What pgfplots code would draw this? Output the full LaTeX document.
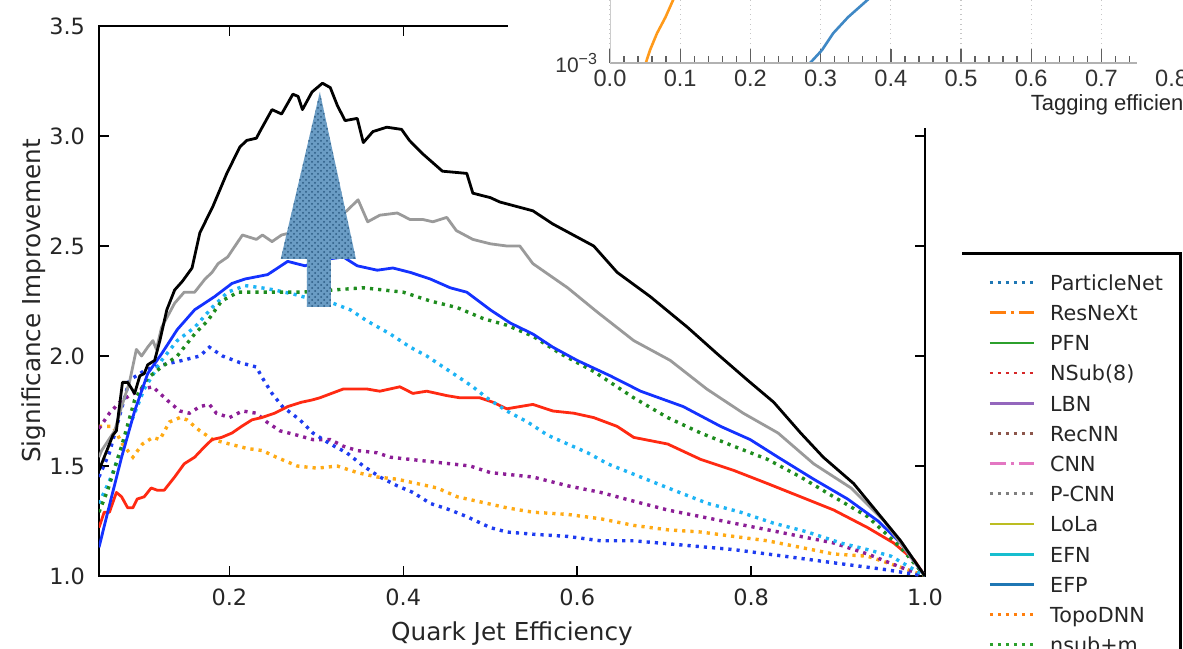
\documentclass[border=0pt]{standalone}
\usepackage{fontspec}
\setmainfont{DejaVu Sans}
\newfontfamily\insetfont{Liberation Sans}
\usepackage{pgfplots}
\pgfplotsset{compat=1.18}
\usetikzlibrary{patterns}
\pgfplotsset{/pgf/number format/assume math mode=true}

\definecolor{cGray}{HTML}{9A9A9A}
\definecolor{cBlue}{HTML}{1432FF}
\definecolor{cGreen}{HTML}{1E8C1E}
\definecolor{cSky}{HTML}{1EB4F5}
\definecolor{cBlueDot}{HTML}{1E3CF0}
\definecolor{cRed}{HTML}{FF2A12}
\definecolor{cPurple}{HTML}{8C1E96}
\definecolor{cOrange}{HTML}{FFAA14}
\definecolor{arrowfill}{HTML}{6A9CC4}
\definecolor{arrowdot}{HTML}{2A5A82}
\definecolor{inOrange}{HTML}{FF9A1A}
\definecolor{inBlue}{HTML}{3F88C5}
\definecolor{tabblue}{HTML}{1F77B4}
\definecolor{taborange}{HTML}{FF7F0E}
\definecolor{tabgreen}{HTML}{2CA02C}
\definecolor{tabred}{HTML}{D62728}
\definecolor{tabpurple}{HTML}{9467BD}
\definecolor{tabbrown}{HTML}{8C564B}
\definecolor{tabpink}{HTML}{E377C2}
\definecolor{tabgray}{HTML}{7F7F7F}
\definecolor{tabolive}{HTML}{BCBD22}
\definecolor{tabcyan}{HTML}{17BECF}

\tikzset{
  sol/.style={line width=1.4pt, line join=round},
  dotl/.style={line width=1.7pt, dash pattern=on 1.6pt off 2.5pt},
  lsol/.style={line width=1.3pt},
  ldot/.style={line width=1.4pt, dash pattern=on 1.4pt off 2.6pt},
  ldd/.style={line width=1.3pt, dash pattern=on 8pt off 2.5pt on 1.5pt off 2.5pt},
}

\begin{document}
\begin{tikzpicture}
\useasboundingbox (0,0) rectangle (591.5pt,324pt);
\clip (0,0) rectangle (591.5pt,324pt);

% ---------------- main axis ----------------
\begin{axis}[
  at={(49.5pt,36pt)}, anchor=south west, scale only axis,
  width=413pt, height=275pt,
  xmin=0.05, xmax=1.0, ymin=1.0, ymax=3.5,
  xtick={0.2,0.4,0.6,0.8,1.0}, ytick={1.0,1.5,2.0,2.5,3.0,3.5},
  tick align=inside, major tick length=5pt,
  every tick/.style={black, line width=0.8pt},
  axis line style={line width=1.1pt},
  /pgf/number format/fixed, /pgf/number format/fixed zerofill,
  /pgf/number format/precision=1,
  tick label style={font=\fontsize{11.2}{13}\selectfont, text=black!85},
  xticklabel style={yshift=-3pt},
  yticklabel style={xshift=-3.5pt},
  xlabel={Quark Jet Efficiency}, ylabel={Significance Improvement},
  every axis x label/.style={at={(axis description cs:0.5,-0.1164)}, anchor=base, font=\fontsize{12.35}{15}\selectfont, text=black!85},
  every axis y label/.style={at={(axis description cs:-0.0714,0.5)}, rotate=90, anchor=base, font=\fontsize{12.35}{15}\selectfont, text=black!85},
]
% orange dotted
\addplot[cOrange, dotl] coordinates {(0.05,1.68)(0.066,1.68)(0.077,1.60)(0.089,1.54)(0.100,1.60)(0.112,1.63)(0.120,1.62)(0.131,1.70)(0.143,1.72)(0.151,1.71)(0.166,1.66)(0.181,1.62)(0.200,1.60)(0.220,1.58)(0.238,1.57)(0.254,1.54)(0.278,1.50)(0.301,1.49)(0.324,1.50)(0.347,1.47)(0.370,1.45)(0.393,1.44)(0.416,1.42)(0.439,1.40)(0.462,1.36)(0.485,1.34)(0.519,1.31)(0.549,1.29)(0.589,1.28)(0.627,1.26)(0.665,1.23)(0.704,1.21)(0.742,1.20)(0.780,1.18)(0.819,1.16)(0.857,1.13)(0.895,1.10)(0.934,1.09)(0.972,1.04)(1.0,1.0)};
% purple dotted
\addplot[cPurple, dotl] coordinates {(0.05,1.67)(0.062,1.74)(0.074,1.79)(0.085,1.82)(0.100,1.85)(0.112,1.86)(0.120,1.83)(0.131,1.79)(0.143,1.75)(0.154,1.74)(0.166,1.77)(0.177,1.78)(0.185,1.74)(0.200,1.72)(0.215,1.75)(0.231,1.74)(0.243,1.70)(0.258,1.66)(0.278,1.64)(0.296,1.62)(0.316,1.62)(0.331,1.59)(0.347,1.57)(0.370,1.56)(0.385,1.54)(0.408,1.53)(0.431,1.52)(0.454,1.51)(0.477,1.50)(0.500,1.47)(0.549,1.45)(0.589,1.41)(0.627,1.38)(0.665,1.34)(0.704,1.30)(0.742,1.27)(0.780,1.24)(0.819,1.21)(0.857,1.18)(0.895,1.15)(0.934,1.10)(0.972,1.04)(1.0,1.0)};
% blue dotted
\addplot[cBlueDot, dotl] coordinates {(0.05,1.45)(0.062,1.56)(0.085,1.89)(0.105,1.94)(0.123,1.96)(0.146,1.98)(0.166,2.00)(0.177,2.04)(0.192,2.00)(0.212,1.97)(0.231,1.95)(0.238,1.90)(0.249,1.83)(0.261,1.77)(0.281,1.71)(0.296,1.65)(0.316,1.60)(0.335,1.56)(0.354,1.50)(0.373,1.45)(0.393,1.41)(0.411,1.38)(0.431,1.33)(0.454,1.30)(0.473,1.27)(0.500,1.22)(0.519,1.20)(0.549,1.19)(0.589,1.18)(0.627,1.16)(0.665,1.16)(0.723,1.14)(0.780,1.12)(0.838,1.09)(0.895,1.06)(0.953,1.03)(1.0,1.0)};
% red solid
\addplot[cRed, sol] coordinates {(0.05,1.22)(0.056,1.29)(0.062,1.29)(0.070,1.38)(0.076,1.36)(0.083,1.31)(0.089,1.31)(0.094,1.35)(0.102,1.36)(0.110,1.40)(0.117,1.39)(0.125,1.39)(0.137,1.45)(0.148,1.51)(0.160,1.54)(0.172,1.59)(0.180,1.62)(0.191,1.63)(0.203,1.65)(0.214,1.68)(0.226,1.71)(0.237,1.72)(0.252,1.74)(0.267,1.77)(0.283,1.79)(0.295,1.80)(0.304,1.81)(0.331,1.85)(0.358,1.85)(0.373,1.84)(0.396,1.86)(0.411,1.83)(0.427,1.84)(0.450,1.82)(0.465,1.81)(0.488,1.81)(0.503,1.79)(0.519,1.76)(0.549,1.78)(0.572,1.75)(0.596,1.74)(0.619,1.72)(0.646,1.68)(0.665,1.63)(0.704,1.60)(0.742,1.53)(0.780,1.48)(0.819,1.42)(0.857,1.36)(0.895,1.30)(0.934,1.22)(0.964,1.15)(0.988,1.07)(1.0,1.0)};
% light blue dotted
\addplot[cSky, dotl] coordinates {(0.05,1.33)(0.064,1.45)(0.083,1.66)(0.102,1.85)(0.122,1.98)(0.140,2.07)(0.160,2.13)(0.180,2.22)(0.198,2.29)(0.218,2.32)(0.237,2.31)(0.252,2.30)(0.275,2.28)(0.284,2.27)(0.319,2.24)(0.339,2.21)(0.358,2.16)(0.385,2.10)(0.408,2.04)(0.427,2.00)(0.446,1.95)(0.465,1.90)(0.480,1.86)(0.496,1.81)(0.519,1.75)(0.543,1.70)(0.566,1.64)(0.589,1.60)(0.612,1.56)(0.635,1.51)(0.673,1.45)(0.711,1.39)(0.750,1.33)(0.788,1.29)(0.826,1.24)(0.865,1.20)(0.903,1.15)(0.934,1.12)(0.961,1.09)(1.0,1.0)};
% green dotted
\addplot[cGreen, dotl] coordinates {(0.05,1.29)(0.060,1.39)(0.076,1.59)(0.091,1.80)(0.106,1.90)(0.122,1.95)(0.140,2.00)(0.160,2.10)(0.175,2.16)(0.191,2.25)(0.210,2.29)(0.237,2.29)(0.260,2.29)(0.283,2.29)(0.319,2.30)(0.354,2.31)(0.400,2.29)(0.431,2.25)(0.462,2.22)(0.492,2.17)(0.519,2.14)(0.549,2.09)(0.581,2.01)(0.619,1.93)(0.665,1.81)(0.704,1.72)(0.742,1.65)(0.780,1.59)(0.819,1.53)(0.857,1.45)(0.895,1.36)(0.934,1.27)(0.972,1.13)(1.0,1.0)};
% blue solid
\addplot[cBlue, sol] coordinates {(0.05,1.13)(0.060,1.29)(0.076,1.54)(0.091,1.75)(0.106,1.92)(0.122,2.01)(0.140,2.12)(0.160,2.21)(0.183,2.27)(0.203,2.33)(0.218,2.35)(0.244,2.37)(0.267,2.43)(0.287,2.41)(0.312,2.44)(0.331,2.45)(0.347,2.41)(0.370,2.39)(0.388,2.40)(0.408,2.38)(0.431,2.35)(0.454,2.31)(0.473,2.29)(0.500,2.21)(0.523,2.15)(0.549,2.10)(0.572,2.04)(0.600,1.98)(0.638,1.91)(0.673,1.84)(0.722,1.77)(0.765,1.68)(0.799,1.62)(0.831,1.54)(0.872,1.44)(0.911,1.35)(0.946,1.25)(0.972,1.15)(1.0,1.0)};
% gray solid
\addplot[cGray, sol] coordinates {(0.05,1.54)(0.053,1.57)(0.068,1.66)(0.076,1.77)(0.085,1.88)(0.093,2.03)(0.099,2.00)(0.106,2.04)(0.112,2.07)(0.116,2.03)(0.122,2.13)(0.137,2.24)(0.148,2.29)(0.160,2.29)(0.172,2.35)(0.180,2.38)(0.187,2.42)(0.198,2.45)(0.215,2.55)(0.231,2.53)(0.238,2.55)(0.249,2.52)(0.260,2.55)(0.281,2.57)(0.304,2.58)(0.335,2.66)(0.348,2.71)(0.359,2.61)(0.373,2.64)(0.393,2.65)(0.408,2.62)(0.423,2.62)(0.434,2.61)(0.450,2.63)(0.461,2.57)(0.480,2.53)(0.500,2.51)(0.519,2.50)(0.534,2.50)(0.549,2.42)(0.589,2.31)(0.623,2.20)(0.665,2.07)(0.707,1.98)(0.749,1.85)(0.791,1.74)(0.831,1.65)(0.872,1.51)(0.915,1.40)(0.953,1.25)(1.0,1.0)};
% black solid
\addplot[black, sol] coordinates {(0.05,1.48)(0.066,1.64)(0.070,1.66)(0.077,1.88)(0.083,1.88)(0.091,1.83)(0.097,1.91)(0.102,1.92)(0.106,1.96)(0.114,1.98)(0.120,2.07)(0.128,2.21)(0.137,2.30)(0.146,2.34)(0.157,2.40)(0.166,2.56)(0.181,2.68)(0.197,2.83)(0.212,2.95)(0.220,2.98)(0.231,2.99)(0.235,3.02)(0.249,3.12)(0.260,3.10)(0.273,3.19)(0.279,3.18)(0.284,3.12)(0.295,3.20)(0.307,3.24)(0.316,3.22)(0.324,3.14)(0.333,3.07)(0.347,3.08)(0.354,2.97)(0.365,3.02)(0.381,3.04)(0.398,3.03)(0.407,2.98)(0.422,2.92)(0.445,2.84)(0.473,2.83)(0.480,2.74)(0.500,2.72)(0.511,2.70)(0.549,2.66)(0.572,2.60)(0.619,2.50)(0.646,2.38)(0.684,2.27)(0.727,2.13)(0.761,2.01)(0.796,1.89)(0.826,1.79)(0.857,1.65)(0.883,1.54)(0.918,1.42)(0.945,1.29)(0.972,1.16)(1.0,1.0)};
% arrow annotation
\fill[arrowfill] (axis cs:0.304,3.2) -- (axis cs:0.3455,2.441) -- (axis cs:0.3167,2.441) -- (axis cs:0.3167,2.223) -- (axis cs:0.289,2.223) -- (axis cs:0.289,2.441) -- (axis cs:0.259,2.441) -- cycle;
\path[pattern=crosshatch dots, pattern color=arrowdot] (axis cs:0.304,3.2) -- (axis cs:0.3455,2.441) -- (axis cs:0.3167,2.441) -- (axis cs:0.3167,2.223) -- (axis cs:0.289,2.223) -- (axis cs:0.289,2.441) -- (axis cs:0.259,2.441) -- cycle;
\end{axis}

% ---------------- inset fragment (top right) ----------------
\fill[white] (254pt,260pt) rectangle (591.5pt,324pt);
\begin{axis}[
  at={(305pt,292.5pt)}, anchor=south west, scale only axis,
  width=280.8pt, height=106.5pt,
  xmin=0, xmax=0.8, ymode=log, ymin=1e-3, ymax=1e-2,
  axis line style={draw=none},
  xtick={0,0.1,0.2,0.3,0.4,0.5,0.6,0.7},
  minor xtick={0.02,0.04,0.06,0.08,0.12,0.14,0.16,0.18,0.22,0.24,0.26,0.28,0.32,0.34,0.36,0.38,0.42,0.44,0.46,0.48,0.52,0.54,0.56,0.58,0.62,0.64,0.66,0.68,0.72,0.74},
  extra x ticks={0.8}, extra x tick style={major tick length=0pt, grid=none},
  xtick pos=left, ytick pos=left,
  ytick={0.001}, yticklabels={10\raisebox{0.75ex}{\fontsize{8}{9}\selectfont −3}},
  ytick style={draw=none}, yminorticks=false,
  tick align=inside, major tick length=7pt, minor tick length=3.5pt,
  xmajorgrids, major x grid style={dotted, color=gray!45, line width=0.6pt},
  every tick/.style={color=gray!75!black, line width=0.7pt},
  /pgf/number format/fixed, /pgf/number format/fixed zerofill,
  /pgf/number format/precision=1,
  tick label style={font=\insetfont\fontsize{11.8}{13}\selectfont, text=black!80},
  yticklabel style={xshift=-3pt, font=\insetfont\fontsize{10.5}{12}\selectfont},
  xlabel={Tagging efficiency},
  xlabel style={at={(axis description cs:0.737,-0.2207)}, anchor=base west, font=\insetfont\fontsize{11}{13}\selectfont, text=black!85},
]
\addplot[inOrange, line width=1.3pt] coordinates {(0.051,1e-3)(0.057,1.15e-3)(0.067,1.38e-3)(0.079,1.64e-3)(0.090,1.98e-3)(0.098,2.3e-3)};
\addplot[inBlue, line width=1.3pt] coordinates {(0.285,1e-3)(0.302,1.15e-3)(0.318,1.38e-3)(0.339,1.64e-3)(0.367,1.98e-3)(0.380,2.2e-3)};
\draw[gray!60, line width=0.9pt] (axis cs:0,1e-3) -- (axis cs:0.75,1e-3);
\draw[gray!40, line width=0.8pt] (axis cs:0,1e-3) -- (axis cs:0,1e-2);
\end{axis}

% ---------------- legend fragment (bottom right) ----------------
\fill[white] (481pt,0pt) rectangle (591.5pt,197pt);
\draw[line width=1.5pt] (481pt,197pt) -- (590pt,197pt) -- (590pt,-2pt);
\begin{axis}[
  at={(481pt,0pt)}, anchor=south west, scale only axis,
  width=110.5pt, height=197pt, hide axis,
  xmin=0, xmax=1, ymin=0, ymax=1,
  legend cell align=left,
  legend style={at={(0.1176,0.9594)}, anchor=north west, draw=none, fill=none,
    inner sep=0pt, row sep=3.1pt, column sep=7.5pt,
    font=\fontsize{10.35}{12}\selectfont, text=black!85,
    nodes={inner sep=0pt, text height=10pt, text depth=2pt}},
  legend image code/.code={\draw[#1] (0pt,0pt) -- (22pt,0pt);},
]
\addlegendimage{tabblue, ldot}\addlegendentry{ParticleNet}
\addlegendimage{taborange, ldd}\addlegendentry{ResNeXt}
\addlegendimage{tabgreen, lsol}\addlegendentry{PFN}
\addlegendimage{tabred, ldot}\addlegendentry{NSub(8)}
\addlegendimage{tabpurple, lsol}\addlegendentry{LBN}
\addlegendimage{tabbrown, ldot}\addlegendentry{RecNN}
\addlegendimage{tabpink, ldd}\addlegendentry{CNN}
\addlegendimage{tabgray, ldot}\addlegendentry{P-CNN}
\addlegendimage{tabolive, lsol}\addlegendentry{LoLa}
\addlegendimage{tabcyan, lsol}\addlegendentry{EFN}
\addlegendimage{tabblue, lsol}\addlegendentry{EFP}
\addlegendimage{taborange, ldot}\addlegendentry{TopoDNN}
\addlegendimage{tabgreen, ldot}\addlegendentry{nsub+m}
\end{axis}
\end{tikzpicture}
\end{document}
